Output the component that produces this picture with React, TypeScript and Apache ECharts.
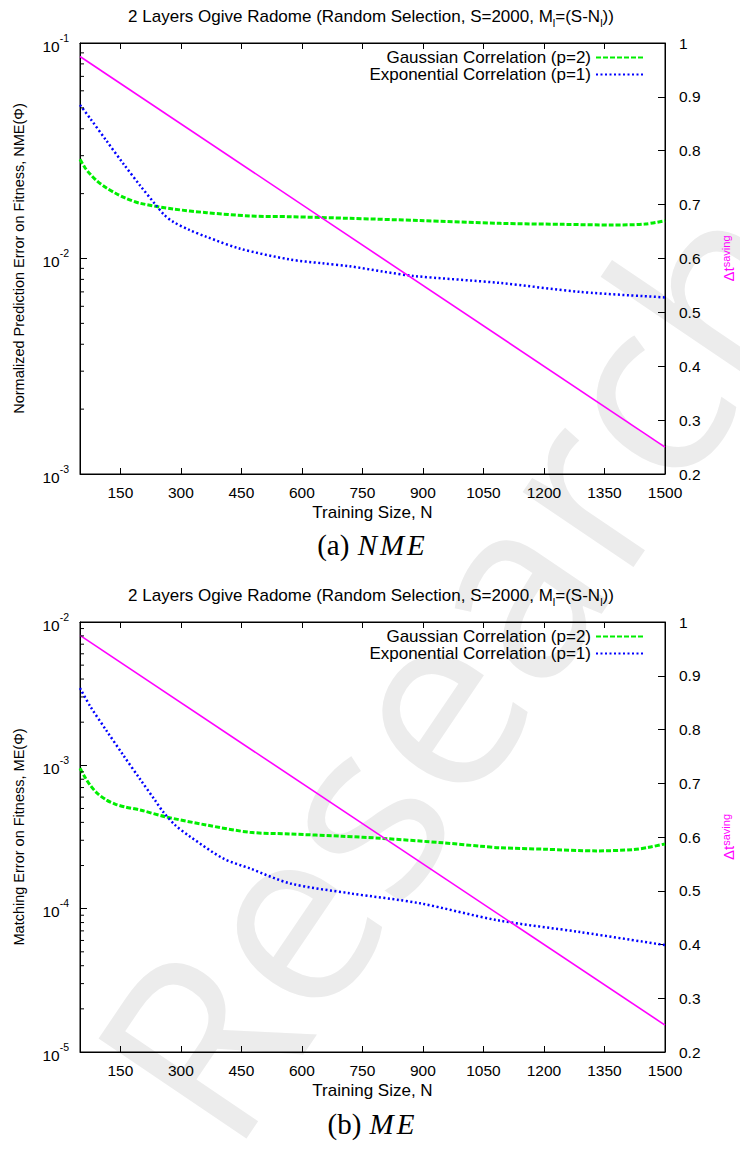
import React, { useEffect, useRef } from "react";
import * as echarts from "echarts";

const X_MIN = 50;
const X_MAX = 1500;
const xTickValues = [150, 300, 450, 600, 750, 900, 1050, 1200, 1350, 1500];

// Delta t saving (right axis), both panels
const savingN = [50, 1500];
const savingValue = [0.975, 0.25];

// (a) NME panel
const nmeGaussN = [50, 62, 75, 92, 116, 137, 162, 199, 281, 364, 471, 570, 719, 893, 1091, 1250, 1371, 1450, 1500];
const nmeGaussValue = [0.02886, 0.02644, 0.02466, 0.02289, 0.02124, 0.02014, 0.01909, 0.01804, 0.01697, 0.01632, 0.01575, 0.01563, 0.01536, 0.015, 0.01456, 0.0144, 0.0143, 0.01445, 0.01497];
const nmeExpN = [50, 75, 116, 157, 199, 236, 258, 281, 320, 364, 447, 570, 650, 719, 800, 876, 1091, 1289, 1500];
const nmeExpValue = [0.0516, 0.0447, 0.0351, 0.0276, 0.0218, 0.0179, 0.016, 0.0148, 0.0136, 0.0126, 0.0111, 0.0099, 0.0095, 0.0092, 0.0087, 0.0083, 0.0077, 0.007, 0.0066];

// (b) ME panel
const meGaussN = [50, 62, 75, 92, 116, 137, 162, 199, 261, 364, 471, 570, 700, 801, 950, 1041, 1091, 1200, 1331, 1420, 1460, 1500];
const meGaussValue = [0.000953, 0.000829, 0.000729, 0.000641, 0.000572, 0.000537, 0.000512, 0.000488, 0.000438, 0.000383, 0.000341, 0.000332, 0.00032, 0.000309, 0.000288, 0.000273, 0.000266, 0.00026, 0.000253, 0.000258, 0.000268, 0.000283];
const meExpN = [50, 75, 116, 157, 199, 236, 257, 286, 323, 405, 471, 571, 719, 893, 1083, 1289, 1500];
const meExpValue = [0.00346, 0.00259, 0.00174, 0.00118, 0.0008, 0.00057, 0.00047, 0.000383, 0.000318, 0.000224, 0.000191, 0.00015, 0.000128, 0.000109, 0.0000832, 0.0000687, 0.0000557];

const nmeMinorTicks = [0.002, 0.003, 0.004, 0.005, 0.006, 0.007, 0.008, 0.009, 0.02, 0.03, 0.04, 0.05, 0.06, 0.07, 0.08, 0.09];
const meMinorTicks = [0.00002, 0.00003, 0.00004, 0.00005, 0.00006, 0.00007, 0.00008, 0.00009, 0.0002, 0.0003, 0.0004, 0.0005, 0.0006, 0.0007, 0.0008, 0.0009, 0.002, 0.003, 0.004, 0.005, 0.006, 0.007, 0.008, 0.009];

const GAUSS_NAME = "Gaussian Correlation (p=2)";
const EXP_NAME = "Exponential Correlation (p=1)";
const X_NAME = "Training Size, N";
const NME_NAME = "Normalized Prediction Error on Fitness, NME(Φ)";
const ME_NAME = "Matching Error on Fitness, ME(Φ)";

const FONT = "'Liberation Sans', Arial, sans-serif";
const SERIF = "'Liberation Serif', 'DejaVu Serif', serif";

const pairs = (n: number[], v: number[]) => n.map((x, i) => [x, v[i]]);

const supRich = {
  b: { fontSize: 15.5, fontFamily: FONT, color: "#000", lineHeight: 22, verticalAlign: "bottom" },
  s: { fontSize: 10.5, fontFamily: FONT, color: "#000", lineHeight: 10, verticalAlign: "top" },
};

const logFormatter = (v: number) => {
  const e = Math.round(Math.log10(v));
  return `{b|10}{s|${e}}`;
};

export default function App() {
  const ref = useRef<HTMLDivElement>(null);
  useEffect(() => {
    if (!ref.current) return;
    const chart = echarts.init(ref.current, undefined, { renderer: "svg" });

    const grids = [
      { top: 43, height: 431, yMin: 0.001, yMax: 0.1, yName: NME_NAME, gauss: pairs(nmeGaussN, nmeGaussValue), exp: pairs(nmeExpN, nmeExpValue), minor: nmeMinorTicks },
      { top: 622, height: 430, yMin: 0.00001, yMax: 0.01, yName: ME_NAME, gauss: pairs(meGaussN, meGaussValue), exp: pairs(meExpN, meExpValue), minor: meMinorTicks },
    ];

    const xAxis: any[] = [];
    const yAxis: any[] = [];
    const series: any[] = [];
    const legend: any[] = [];

    grids.forEach((g, gi) => {
      const baseX = {
        type: "value",
        gridIndex: gi,
        min: X_MIN,
        max: X_MAX,
        splitLine: { show: false },
        axisLine: { show: true, lineStyle: { color: "#000", width: 1 } },
        axisTick: { show: true, inside: true, length: 6, customValues: xTickValues, lineStyle: { color: "#000" } },
      };
      xAxis.push({
        ...baseX,
        position: "bottom",
        axisLabel: { customValues: xTickValues, formatter: (v: number) => String(v), color: "#000", fontSize: 15.5, fontFamily: FONT, margin: 10 },
        name: X_NAME,
        nameLocation: "middle",
        nameGap: 30,
        nameTextStyle: { color: "#000", fontSize: 17, fontFamily: FONT },
      });
      xAxis.push({
        ...baseX,
        position: "top",
        axisLabel: { show: false },
      });
      yAxis.push({
        type: "log",
        logBase: 10,
        gridIndex: gi,
        min: g.yMin,
        max: g.yMax,
        position: "left",
        splitLine: { show: false },
        axisLine: { show: true, lineStyle: { color: "#000", width: 1 } },
        axisTick: { show: true, inside: true, length: 7, lineStyle: { color: "#000" } },
        axisLabel: { formatter: logFormatter, rich: supRich, margin: 11 },
        name: g.yName,
        nameLocation: "middle",
        nameRotate: 90,
        nameGap: 54,
        nameTextStyle: { color: "#000", fontSize: 14.5, fontFamily: FONT },
      });
      yAxis.push({
        type: "value",
        gridIndex: gi,
        min: 0.2,
        max: 1,
        interval: 0.1,
        position: "right",
        splitLine: { show: false },
        axisLine: { show: true, lineStyle: { color: "#000", width: 1 } },
        axisTick: { show: true, inside: true, length: 7, lineStyle: { color: "#000" } },
        axisLabel: {
          formatter: (v: number) => String(Math.round(v * 10) / 10),
          color: "#000",
          fontSize: 15.5,
          fontFamily: FONT,
          margin: 14,
        },
        name: "{d|Δt}{s|saving}",
        nameLocation: "middle",
        nameRotate: 90,
        nameGap: 55,
        nameTextStyle: {
          rich: {
            d: { fontSize: 15, fontFamily: FONT, color: "#ff00ff", lineHeight: 16, verticalAlign: "bottom" },
            s: { fontSize: 11, fontFamily: FONT, color: "#ff00ff", lineHeight: 9, verticalAlign: "top" },
          },
        },
      });

      const xi = gi * 2;
      const yl = gi * 2;
      const yr = gi * 2 + 1;

      series.push({
        type: "line",
        name: GAUSS_NAME,
        xAxisIndex: xi,
        yAxisIndex: yl,
        data: g.gauss,
        symbol: "none",
        smooth: 0.3,
        lineStyle: { color: "#00ee00", width: 3, type: [5, 2] },
        itemStyle: { color: "#00ee00" },
        z: 3,
      });
      series.push({
        type: "line",
        name: EXP_NAME,
        xAxisIndex: xi,
        yAxisIndex: yl,
        data: g.exp,
        symbol: "none",
        smooth: 0.3,
        lineStyle: { color: "#0000ff", width: 2.5, type: [2, 2.5] },
        itemStyle: { color: "#0000ff" },
        z: 3,
      });
      series.push({
        type: "line",
        name: "saving",
        xAxisIndex: xi,
        yAxisIndex: yr,
        data: pairs(savingN, savingValue),
        symbol: "none",
        lineStyle: { color: "#ff00ff", width: 1.6 },
        itemStyle: { color: "#ff00ff" },
        z: 4,
      });
      series.push({
        type: "custom",
        xAxisIndex: xi,
        yAxisIndex: yl,
        data: g.minor.map((v) => [X_MIN, v]),
        silent: true,
        clip: false,
        renderItem: (_p: any, api: any) => {
          const p = api.coord([api.value(0), api.value(1)]);
          return {
            type: "line",
            shape: { x1: p[0], y1: p[1], x2: p[0] + 4, y2: p[1] },
            style: { stroke: "#000", lineWidth: 1 },
          };
        },
        z: 5,
      });

      legend.push({
        orient: "vertical",
        align: "right",
        right: 95,
        top: g.top + 6,
        itemWidth: 48,
        itemHeight: 10,
        itemGap: 0,
        padding: 0,
        selectedMode: false,
        data: [GAUSS_NAME, EXP_NAME],
        itemStyle: { opacity: 0 },
        textStyle: { color: "#000", fontSize: 17, fontFamily: FONT, lineHeight: 17 },
      });
    });

    const titleRich = {
      t: { fontSize: 17, fontFamily: FONT, color: "#000", lineHeight: 21, verticalAlign: "top" },
      u: { fontSize: 11, fontFamily: FONT, color: "#000", lineHeight: 11, verticalAlign: "bottom" },
    };
    const titleText = "{t|2 Layers Ogive Radome (Random Selection, S=2000, M}{u|l}{t|=(S-N}{u|l}{t|))}";
    const capRich = {
      r: { fontSize: 29, fontFamily: SERIF, color: "#000" },
      i: { fontSize: 29, fontFamily: SERIF, fontStyle: "italic", color: "#000", padding: [0, 2, 0, 1] },
    };

    const graphic: any[] = [
      {
        type: "text",
        x: 452,
        y: 662,
        rotation: 0.975,
        silent: true,
        z: -10,
        style: { text: "Research", fontSize: 250, fontFamily: "'Open Sans', sans-serif", fill: "#ececec", textAlign: "center", textVerticalAlign: "middle" },
      },
      { type: "text", x: 371, y: 18, style: { text: titleText, rich: titleRich, textAlign: "center", textVerticalAlign: "middle" } },
      { type: "text", x: 371, y: 597, style: { text: titleText, rich: titleRich, textAlign: "center", textVerticalAlign: "middle" } },
      { type: "text", x: 372, y: 545, style: { text: "{r|(a) }{i|N}{i|M}{i|E}", rich: capRich, textAlign: "center", textVerticalAlign: "middle" } },
      { type: "text", x: 372, y: 1124, style: { text: "{r|(b) }{i|M}{i|E}", rich: capRich, textAlign: "center", textVerticalAlign: "middle" } },
    ];

    chart.setOption({
      animation: false,
      backgroundColor: "#fff",
      textStyle: { fontFamily: FONT },
      grid: grids.map((g) => ({
        left: 80,
        width: 585,
        top: g.top,
        height: g.height,
        containLabel: false,
        outerBoundsMode: "none",
        show: true,
        borderColor: "#000",
        borderWidth: 1,
        backgroundColor: "transparent",
      })),
      xAxis,
      yAxis,
      legend,
      series,
      graphic,
    });
    return () => chart.dispose();
  }, []);
  return <div ref={ref} style={{ position: "absolute", left: 0, top: 0, width: 740, height: 1151 }} />;
}
